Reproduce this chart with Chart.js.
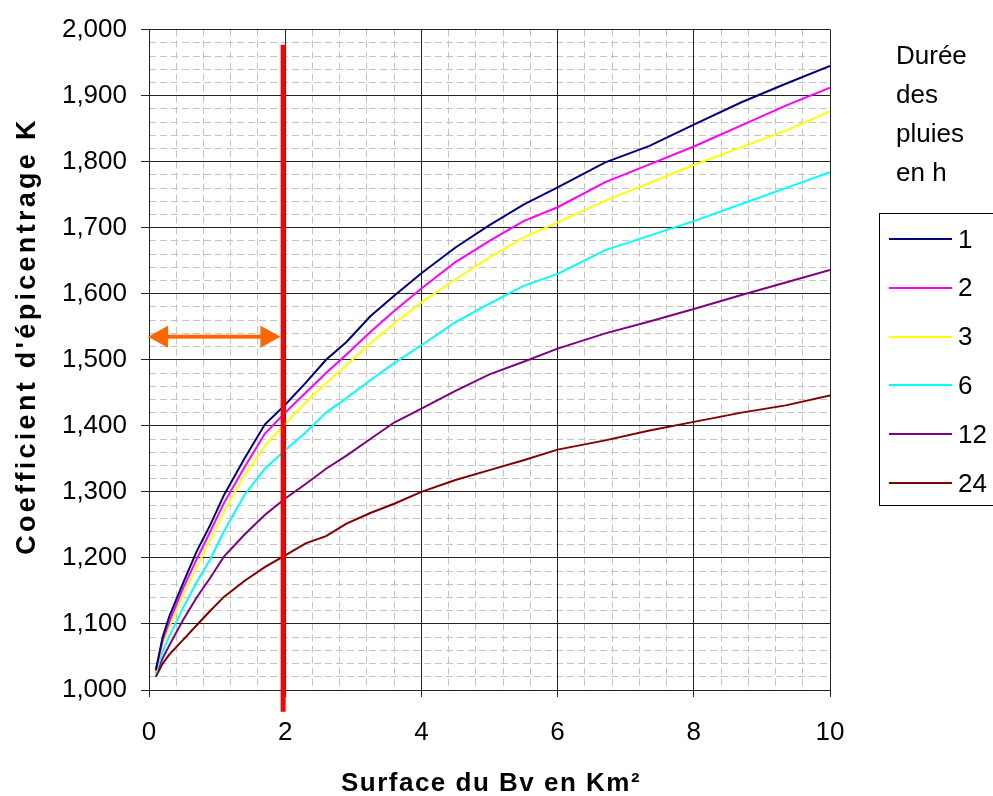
<!DOCTYPE html>
<html lang="fr">
<head>
<meta charset="UTF-8">
<title>Coefficient d'épicentrage K</title>
<script src="https://cdn.jsdelivr.net/npm/chart.js"></script>
<style>
    body { margin: 0; background: #fff; font-family: "Liberation Sans", Arial, sans-serif; }
    .wrap { position: relative; width: 993px; height: 796px; overflow: hidden; }
    .legend-title { position: absolute; left: 896px; top: 36px; font-size: 26px; line-height: 39px; color: #000; }
    .legend-box { position: absolute; left: 879px; top: 213px; width: 116px; height: 293px; border: 1px solid #000; box-sizing: border-box; background: #fff; }
    .legend-row { position: absolute; left: 9px; height: 30px; display: flex; align-items: center; }
    .legend-row .line { width: 63px; height: 2px; }
    .legend-row .txt { margin-left: 6px; font-size: 26px; color: #000; }
</style>
</head>
<body>
<div class="wrap">
    <canvas id="chart" width="993" height="796"></canvas>
    <div class="legend-title">Durée<br>des<br>pluies<br>en h</div>
    <div class="legend-box" id="legend"></div>
</div>
<script>
    // surface du bassin versant (km2)
    const surfaces = [0.1, 0.2, 0.3, 0.5, 0.7, 0.9, 1.1, 1.4, 1.7, 2, 2.3, 2.6, 2.9, 3.25, 3.6, 4, 4.5, 5, 5.5, 6, 6.7, 7.35, 8, 8.7, 9.35, 10];

    // coefficient K par durée de pluie
    const k1h  = [1030, 1080, 1112, 1162, 1210, 1250, 1295, 1350, 1402, 1432, 1465, 1500, 1527, 1566, 1597, 1631, 1670, 1704, 1735, 1761, 1799, 1824, 1856, 1890, 1918, 1945];
    const k2h  = [1030, 1075, 1104, 1154, 1198, 1240, 1283, 1337, 1388, 1420, 1450, 1480, 1508, 1542, 1574, 1608, 1648, 1680, 1710, 1731, 1769, 1796, 1823, 1855, 1885, 1912];
    const k3h  = [1028, 1070, 1096, 1144, 1186, 1228, 1270, 1325, 1370, 1403, 1435, 1465, 1492, 1525, 1555, 1587, 1622, 1655, 1685, 1708, 1741, 1768, 1795, 1822, 1847, 1876];
    const k6h  = [1025, 1058, 1082, 1124, 1163, 1198, 1240, 1295, 1335, 1363, 1390, 1420, 1442, 1469, 1495, 1522, 1557, 1585, 1612, 1630, 1666, 1688, 1710, 1736, 1760, 1784];
    const k12h = [1025, 1048, 1068, 1106, 1140, 1170, 1202, 1235, 1265, 1290, 1312, 1335, 1355, 1380, 1405, 1426, 1453, 1478, 1497, 1517, 1540, 1558, 1577, 1598, 1617, 1636];
    const k24h = [1020, 1040, 1054, 1076, 1098, 1120, 1141, 1165, 1186, 1204, 1222, 1233, 1252, 1268, 1282, 1300, 1318, 1333, 1348, 1364, 1378, 1393, 1406, 1420, 1431, 1446];

    const durations = ['1', '2', '3', '6', '12', '24'];
    const seriesK = [k1h, k2h, k3h, k6h, k12h, k24h];
    const colors = ['#000080', '#ff00ff', '#ffff00', '#00ffff', '#800080', '#800000'];

    // repères : trait rouge vertical et flèche orange
    const redLineX = 1.97;
    const redLineY = [967, 1977];
    const arrowK = 1535;
    const arrowX = [0, 1.93];

    const xTitle = 'Surface du Bv en Km²';
    const yTitle = "Coefficient d'épicentrage K";
    const font = '"Liberation Sans", Arial, sans-serif';

    // légende html
    const legend = document.getElementById('legend');
    durations.forEach((d, i) => {
        const row = document.createElement('div');
        row.className = 'legend-row';
        row.style.top = (10 + i * 48.8) + 'px';
        row.innerHTML = '<span class="line" style="background:' + colors[i] + '"></span><span class="txt">' + d + '</span>';
        legend.appendChild(row);
    });

    const markers = {
        id: 'markers',
        afterDatasetsDraw(chart) {
            const ctx = chart.ctx;
            const x = chart.scales.x, y = chart.scales.y;
            ctx.save();
            // trait rouge
            ctx.strokeStyle = '#ff0000';
            ctx.lineWidth = 5;
            ctx.beginPath();
            ctx.moveTo(x.getPixelForValue(redLineX), y.getPixelForValue(redLineY[0]));
            ctx.lineTo(x.getPixelForValue(redLineX), y.getPixelForValue(redLineY[1]));
            ctx.stroke();
            // flèche double
            const py = y.getPixelForValue(arrowK);
            const x0 = x.getPixelForValue(arrowX[0]) - 1;
            const x1 = x.getPixelForValue(arrowX[1]);
            const hl = 20, hh = 11;
            ctx.fillStyle = '#ff6600';
            ctx.fillRect(x0 + hl - 2, py - 2, x1 - x0 - 2 * hl + 4, 4);
            ctx.beginPath();
            ctx.moveTo(x0, py); ctx.lineTo(x0 + hl, py - hh); ctx.lineTo(x0 + hl, py + hh); ctx.closePath();
            ctx.moveTo(x1, py); ctx.lineTo(x1 - hl, py - hh); ctx.lineTo(x1 - hl, py + hh); ctx.closePath();
            ctx.fill();
            ctx.restore();
        }
    };

    const axisTitles = {
        id: 'axisTitles',
        afterDraw(chart) {
            const ctx = chart.ctx;
            const area = chart.chartArea;
            ctx.save();
            ctx.fillStyle = '#000';
            ctx.font = 'bold 26px ' + font;
            ctx.textBaseline = 'alphabetic';
            ctx.textAlign = 'center';
            ctx.letterSpacing = '1.5px';
            ctx.fillText(xTitle, 491, area.bottom + 101);
            ctx.translate(35, 336);
            ctx.rotate(-Math.PI / 2);
            ctx.font = 'bold 27px ' + font;
            ctx.letterSpacing = '3.3px';
            ctx.fillText(yTitle, 0, 0);
            ctx.restore();
        }
    };

    new Chart(document.getElementById('chart'), {
        type: 'line',
        data: {
            datasets: seriesK.map((vals, i) => ({
                label: durations[i],
                data: surfaces.map((s, j) => ({ x: s, y: vals[j] })),
                borderColor: colors[i],
                borderWidth: 2,
                pointRadius: 0,
                tension: 0,
                fill: false
            }))
        },
        options: {
            responsive: false,
            animation: false,
            layout: { padding: { top: 29, right: 163, bottom: 0, left: 0 } },
            plugins: { legend: { display: false }, tooltip: { enabled: false } },
            scales: {
                xMinor: {
                    type: 'linear', position: 'bottom', min: 0, max: 10,
                    ticks: { display: false, stepSize: 0.4 },
                    grid: { color: '#c4c4c4', drawTicks: false, z: -1 },
                    border: { display: false, dash: [7, 4] },
                    afterFit: s => { s.height = 0; }
                },
                yMinor: {
                    type: 'linear', position: 'left', min: 1000, max: 2000,
                    ticks: { display: false, stepSize: 20 },
                    grid: { color: '#c4c4c4', drawTicks: false, z: -1 },
                    border: { display: false, dash: [7, 4] },
                    afterFit: s => { s.width = 0; }
                },
                x: {
                    type: 'linear', position: 'bottom', min: 0, max: 10,
                    ticks: { stepSize: 2, autoSkip: false, maxRotation: 0, padding: 20, color: '#000', font: { family: font, size: 26 } },
                    grid: { color: '#222', tickColor: '#222', tickLength: 7 },
                    border: { color: '#222' },
                    afterFit: s => { s.height = 106; }
                },
                y: {
                    type: 'linear', position: 'left', min: 1000, max: 2000,
                    ticks: { stepSize: 100, padding: 14, color: '#000', font: { family: font, size: 26 },
                        callback: v => v.toLocaleString('en-US') },
                    grid: { color: '#222', tickColor: '#222', tickLength: 8 },
                    border: { color: '#222' },
                    afterFit: s => { s.width = 149; }
                }
            }
        },
        plugins: [markers, axisTitles]
    });
</script>
</body>
</html>
